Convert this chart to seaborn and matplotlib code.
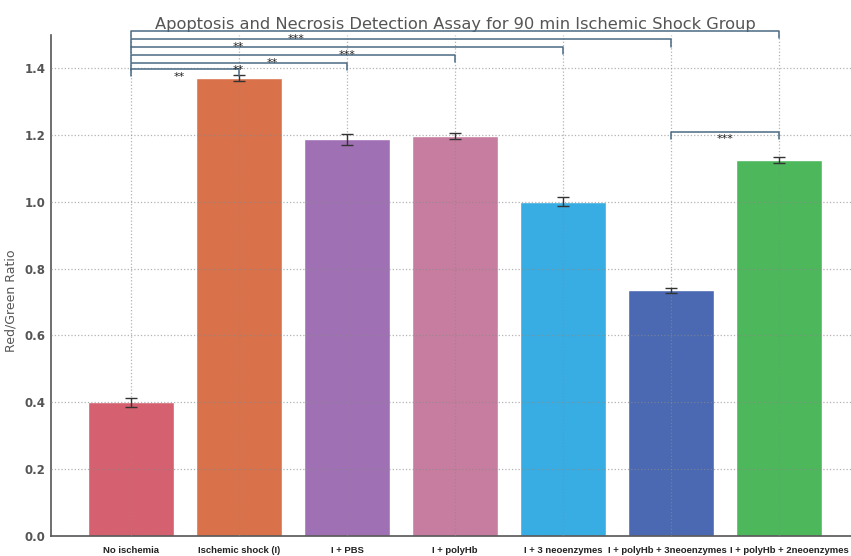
import matplotlib
matplotlib.use("Agg")
import matplotlib.pyplot as plt
import matplotlib.transforms as mtransforms
import seaborn as sns
import pandas as pd

# Groups, mean red/green ratios and their error (SEM)
groups = ["No ischemia", "Ischemic shock (I)", "I + PBS", "I + polyHb",
          "I + 3 neoenzymes", "I + polyHb + 3neoenzymes", "I + polyHb + 2neoenzymes"]
ratio = [0.40, 1.37, 1.187, 1.197, 1.00, 0.735, 1.125]
sem = [0.013, 0.010, 0.016, 0.010, 0.013, 0.007, 0.010]
colors = ["#d5606f", "#d9714a", "#a070b4", "#c77d9f", "#38ade3", "#4a69b2", "#4cb75b"]

# Significance comparisons: (group a, group b, bracket height, label, label x)
comp_a = [0, 0, 0, 0, 0, 0, 5]
comp_b = [1, 2, 3, 4, 5, 6, 6]
comp_h = [1.397, 1.416, 1.439, 1.463, 1.486, 1.511, 1.210]
comp_lbl = ["**", "**", "**", "***", "**", "***", "***"]
comp_lx = [0.45, 0.99, 1.31, 2.0, 0.99, 1.53, 5.5]

df = pd.DataFrame({"group": groups, "ratio": ratio})

sns.set_style("white")
plt.rcParams["font.family"] = ["DejaVu Sans"]

fig = plt.figure(figsize=(8.51, 5.56), dpi=100)
ax = fig.add_axes([51 / 851, 1 - 536 / 556, (859 - 51) / 851, (536 - 34.7) / 556])

sns.barplot(data=df, x="group", y="ratio", hue="group", palette=colors,
            order=groups, hue_order=groups, legend=False, width=0.8,
            saturation=1, errorbar=None, ax=ax, zorder=1)
ax.errorbar(range(len(groups)), ratio, yerr=sem, fmt="none", ecolor="#333333",
            elinewidth=1.0, capsize=4.5, capthick=1.0, zorder=3)

ax.set_xlim(-0.74, 6.74)
ax.set_ylim(0, 1.5)
ax.set_yticks([0.0, 0.2, 0.4, 0.6, 0.8, 1.0, 1.2, 1.4])
ax.set_yticklabels([f"{v:.1f}" for v in ax.get_yticks()])

ax.grid(True, linestyle=":", color="#8a8a8a", linewidth=0.9, alpha=0.65)
ax.set_axisbelow(False)
for line in ax.get_xgridlines() + ax.get_ygridlines():
    line.set_zorder(2)

for s in ["top", "right"]:
    ax.spines[s].set_visible(False)
for s in ["left", "bottom"]:
    ax.spines[s].set_color("#555555")
    ax.spines[s].set_linewidth(1.2)

ax.tick_params(axis="y", length=0, labelsize=8.5, labelcolor="#555555", pad=4)
ax.tick_params(axis="x", length=2, color="#555555", pad=5)
xlabels = ax.get_xticklabels()
for lbl in xlabels:
    lbl.set_fontfamily("Liberation Sans")
    lbl.set_fontweight("bold")
    lbl.set_fontsize(6.8)
    lbl.set_color("#222222")


def nudge(label, dx_px):
    label.set_transform(label.get_transform() +
                        mtransforms.ScaledTranslation(dx_px / 100, 0, fig.dpi_scale_trans))


# the two long labels at the right are spread apart so they stay legible
nudge(xlabels[-2], -4)
nudge(xlabels[-1], 10)
for lbl in ax.get_yticklabels():
    lbl.set_fontweight("bold")

ax.set_xlabel("")
ax.set_ylabel("Red/Green Ratio", fontsize=9, color="#555555")
ax.yaxis.set_label_coords(-0.042, 0.47)
ax.set_title("Apoptosis and Necrosis Detection Assay for 90 min Ischemic Shock Group",
             fontsize=11.7, color="#555555", pad=4)

# Significance brackets
tick = 0.022
for a, b, h, lbl, lx in zip(comp_a, comp_b, comp_h, comp_lbl, comp_lx):
    ax.plot([a, a, b, b], [h - tick, h, h, h - tick], color="#4a6a82",
            linewidth=1.1, clip_on=False, zorder=4)
    ax.text(lx, h - 0.008, lbl, ha="center", va="top", fontsize=8,
            color="#222222", clip_on=False, zorder=5)

fig.savefig("out.png", dpi=100)
